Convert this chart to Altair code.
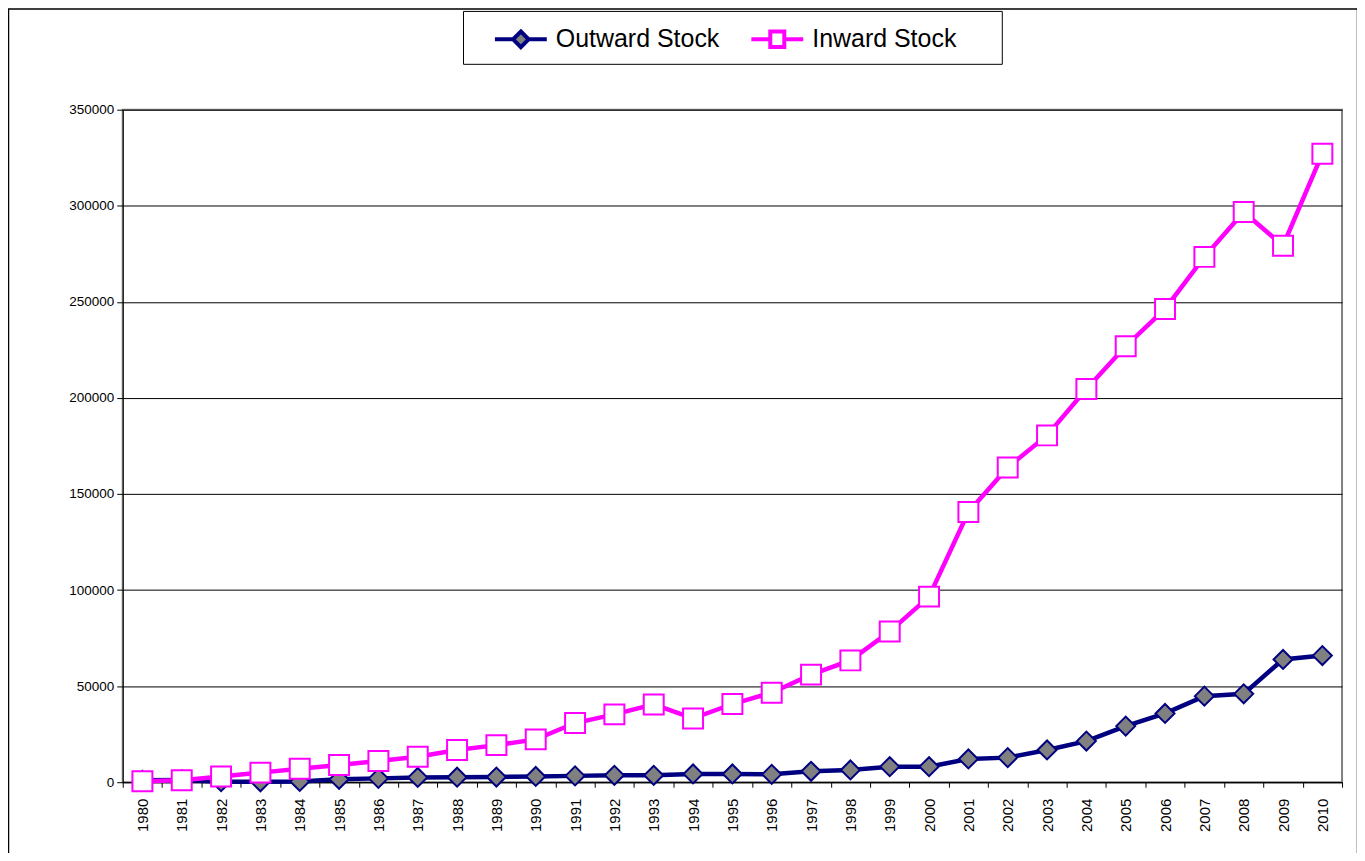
import altair as alt
import pandas as pd

years = ["1980", "1981", "1982", "1983", "1984", "1985", "1986", "1987", "1988", "1989",
         "1990", "1991", "1992", "1993", "1994", "1995", "1996", "1997", "1998", "1999",
         "2000", "2001", "2002", "2003", "2004", "2005", "2006", "2007", "2008", "2009", "2010"]
outward = [1000, 1200, 300, 200, 400, 1500, 2000, 2500, 2600, 2700,
           3000, 3300, 3600, 3600, 4300, 4300, 4100, 5700, 6400, 8100,
           8100, 12100, 12800, 16800, 21400, 29200, 35800, 44800, 46000, 63900, 65900]
inward = [500, 1000, 3000, 5000, 7000, 9000, 11000, 13300, 16800, 19300,
          22300, 30800, 35300, 40500, 33200, 40700, 46600, 56000, 63400, 78400,
          96600, 140600, 163800, 180500, 204600, 226900, 246300, 273400, 296800, 279200, 327100]
series = ["Outward Stock", "Inward Stock"]
y_ticks = [0, 50000, 100000, 150000, 200000, 250000, 300000, 350000]

NAVY = "#000080"
MAGENTA = "#FF00FF"
GRAY = "#808080"

df = pd.concat([
    pd.DataFrame({"Year": years, "Value": outward, "Series": series[0]}),
    pd.DataFrame({"Year": years, "Value": inward, "Series": series[1]}),
])

# legend symbols: a line segment with the series marker in the middle
# (the leading move-to commands only size the legend box, they draw nothing)
P_OUT = "M0,-0.62M0,0.62M-1,0H-0.3M0.3,0H1M0,-0.3L0.3,0L0,0.3L-0.3,0Z"
P_IN = "M8.32,-0.62M8.32,0.62M-1,0H-0.27M0.27,0H1M-0.27,-0.3H0.27V0.3H-0.27Z"

x_enc = alt.X(
    "Year:O", sort=years,
    scale=alt.Scale(type="band", paddingInner=0, paddingOuter=0),
    axis=alt.Axis(title=None, labelAngle=270, labelFontSize=15, labelColor="black",
                  tickBand="extent", ticks=True, tickSize=5, tickColor="black",
                  domainColor="black", domainWidth=1, grid=False, labelPadding=11),
)
y_enc = alt.Y(
    "Value:Q",
    scale=alt.Scale(domain=[0, 350000], nice=False),
    axis=alt.Axis(title=None, values=y_ticks, format="d", grid=True, gridColor="black",
                  gridWidth=1, domainColor="black", tickColor="black", tickSize=6,
                  labelFontSize=13.5, labelColor="black", labelPadding=3),
)

legend = alt.Legend(
    title=None, orient="none", legendX=341, legendY=-99, direction="horizontal",
    labelFontSize=25, labelColor="black", labelLimit=400, symbolSize=2704, symbolStrokeWidth=4,
    symbolOpacity=1, symbolOffset=30, columnPadding=0, labelOffset=7, padding=0,
    strokeColor="black", fillColor="white",
)

base = alt.Chart(df)

line_out = base.transform_filter(alt.datum.Series == series[0]).mark_line(
    strokeWidth=4.5, color=NAVY).encode(x=x_enc, y=y_enc)
pts_out = base.transform_filter(alt.datum.Series == series[0]).mark_point(
    shape="diamond", filled=True, fill=GRAY, stroke=NAVY, strokeWidth=2, size=361, opacity=1
).encode(x=x_enc, y=y_enc)
line_in = base.transform_filter(alt.datum.Series == series[1]).mark_line(
    strokeWidth=4.5, color=MAGENTA).encode(x=x_enc, y=y_enc)
pts_in = base.transform_filter(alt.datum.Series == series[1]).mark_point(
    shape="square", filled=True, fill="white", stroke=MAGENTA, strokeWidth=2, size=400, opacity=1
).encode(x=x_enc, y=y_enc)

# legend carrier: draws nothing itself, the scales have explicit domains
legend_layer = base.transform_filter("false").mark_point(filled=True, strokeWidth=4).encode(
    x=x_enc, y=y_enc,
    shape=alt.Shape("Series:N", scale=alt.Scale(domain=series, range=[P_OUT, P_IN]), legend=legend),
    fill=alt.Fill("Series:N", scale=alt.Scale(domain=series, range=[GRAY, "white"]), legend=legend),
    stroke=alt.Stroke("Series:N", scale=alt.Scale(domain=series, range=[NAVY, MAGENTA]), legend=legend),
)

frame = alt.Chart(alt.Data(values=[{}])).mark_rect(
    fill="transparent", stroke="black", strokeWidth=1.5
).encode(x=alt.value(-114.5), x2=alt.value(1237.5), y=alt.value(-101), y2=alt.value(900))

chart = alt.layer(frame, line_out, pts_out, line_in, pts_in, legend_layer).properties(
    width=1222, height=674,
    autosize=alt.AutoSizeParams(type="none"),
    padding={"left": 115, "top": 101, "right": 15, "bottom": 70},
    background="white",
).configure(font="Liberation Sans").configure_view(stroke=GRAY, strokeWidth=2)

chart.save("out.html", embed_options={"renderer": "svg", "actions": False})
